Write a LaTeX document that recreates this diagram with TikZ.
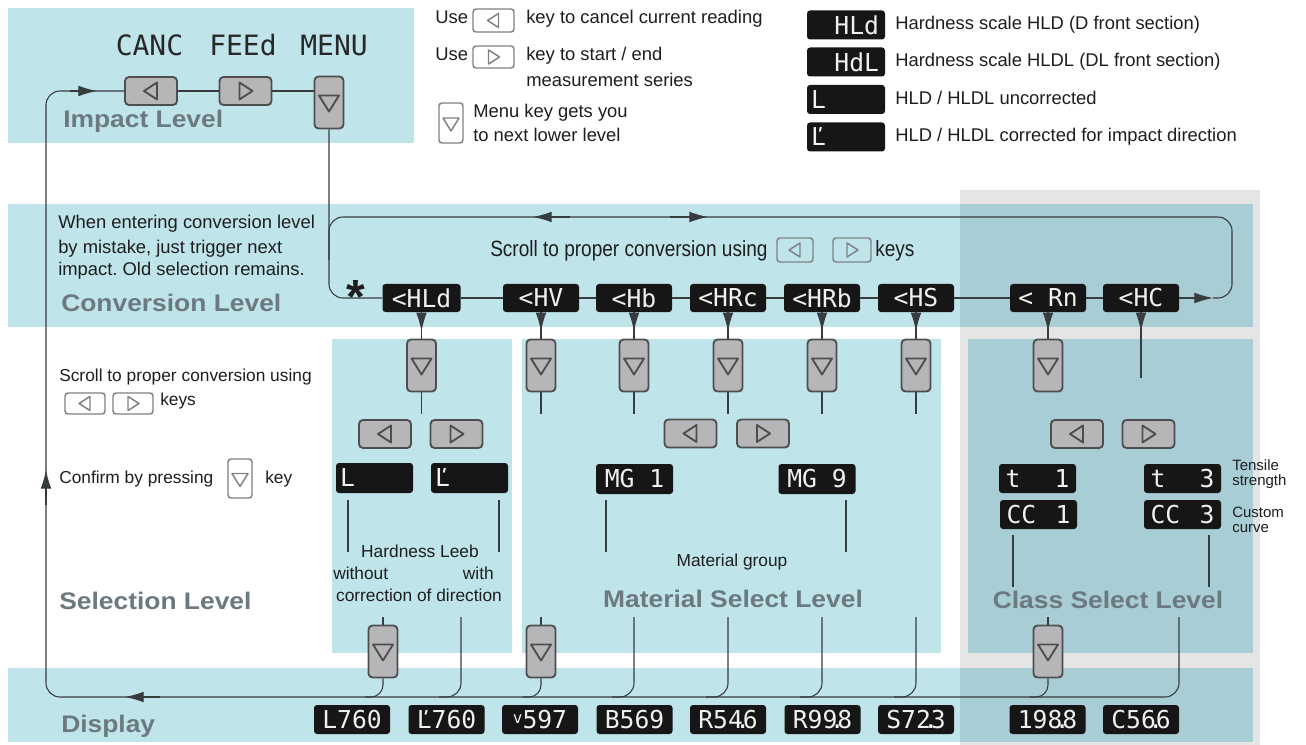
\documentclass[tikz,border=0pt]{standalone}
\usepackage{fontspec}
\setmainfont{Liberation Sans}
\newfontfamily\segfont{DejaVu Sans Mono}
\newfontfamily\condfont[FakeStretch=0.86]{Liberation Sans}
\newfontfamily\headfont[FakeStretch=1.1]{Liberation Sans}
\usetikzlibrary{arrows.meta}
\definecolor{bgc}{RGB}{191,228,234}
\definecolor{bgd}{RGB}{168,205,212}
\definecolor{bgg}{RGB}{229,229,229}
\definecolor{headc}{RGB}{108,122,128}
\definecolor{keyfill}{RGB}{182,182,184}
\definecolor{keyedge}{RGB}{78,78,80}
\definecolor{linec}{RGB}{55,60,62}
\definecolor{txtc}{RGB}{30,30,30}
\definecolor{segbg}{RGB}{22,22,22}
\definecolor{segtxt}{RGB}{240,240,240}
\definecolor{segdk}{RGB}{40,40,40}
\definecolor{okeyc}{RGB}{125,130,132}
\tikzset{
  conn/.style={draw=linec, line width=0.8pt},
  arr/.style={draw=linec, line width=0.8pt, -{Latex[length=14pt,width=8pt]}},
  keybase/.style={draw=keyedge, fill=keyfill, line width=1.4pt, rounded corners=3pt, inner sep=0pt},
  okeybase/.style={draw=okeyc, line width=1.1pt, rounded corners=2.25pt, inner sep=0pt},
  tri/.style={draw=keyedge, line width=1.4pt, line join=round, sharp corners},
  otri/.style={draw=okeyc, line width=1.1pt, line join=round, sharp corners},
  lkey/.style={keybase, minimum width=39pt, minimum height=21pt,
    path picture={\draw[tri,shift={(path picture bounding box.center)}] (6,-8.5) -- (-7,0) -- (6,8.5) -- cycle;}},
  rkey/.style={keybase, minimum width=39pt, minimum height=21pt,
    path picture={\draw[tri,shift={(path picture bounding box.center)}] (-6,-8.5) -- (7,0) -- (-6,8.5) -- cycle;}},
  dkey/.style={keybase, minimum width=21.75pt, minimum height=39pt,
    path picture={\draw[tri,shift={(path picture bounding box.center)}] (-10,-7) -- (10,-7) -- (0,9) -- cycle;}},
  olkey/.style={okeybase, minimum width=30pt, minimum height=16.5pt,
    path picture={\draw[otri,shift={(path picture bounding box.center)}] (5,-7) -- (-6,0) -- (5,7) -- cycle;}},
  orkey/.style={okeybase, minimum width=30pt, minimum height=16.5pt,
    path picture={\draw[otri,shift={(path picture bounding box.center)}] (-5,-7) -- (6,0) -- (-5,7) -- cycle;}},
  odkey/.style={okeybase, minimum width=18pt, minimum height=29.25pt,
    path picture={\draw[otri,shift={(path picture bounding box.center)}] (-8,-5) -- (8,-5) -- (0,8) -- cycle;}},
  head/.style={text=headc, font=\headfont\bfseries\fontsize{18}{20}\selectfont, inner sep=0pt, anchor=base west},
  body/.style={text=txtc, font=\frenchspacing\fontsize{13.8}{16}\selectfont, inner sep=0pt, anchor=base west},
  small/.style={text=txtc, font=\fontsize{13}{15}\selectfont, inner sep=0pt, anchor=base west},
  tiny/.style={text=txtc, font=\fontsize{11.25}{12}\selectfont, inner sep=0pt, anchor=base west},
  cond/.style={text=txtc, font=\condfont\fontsize{16.6}{18}\selectfont, inner sep=0pt, anchor=base west},
  seg/.style={fill=segbg, rounded corners=2.25pt, minimum width=57pt, minimum height=21pt,
    inner sep=0pt, text=segtxt, font=\segfont\fontsize{18.5}{19}\selectfont},
  segdark/.style={text=segdk, font=\segfont\fontsize{21}{21}\selectfont, inner sep=0pt},
}
\begin{document}
\frenchspacing
\begin{tikzpicture}[x=0.75pt,y=-0.75pt]
\useasboundingbox (0,0) rectangle (1306,745);
\fill[white] (0,0) rectangle (1306,745);
% ---------- backgrounds
\fill[bgg] (960,190) rectangle (1260,745);
\fill[bgc] (8,8) rectangle (414,143);
\fill[bgc] (8,204) rectangle (1253,327);
\fill[bgd] (960,204) rectangle (1253,327);
\fill[bgc] (332,339) rectangle (512,653);
\fill[bgc] (522,339) rectangle (941,653);
\fill[bgd] (968,339) rectangle (1253,653);
\fill[bgc] (8,668) rectangle (1253,742);
\fill[bgd] (960,668) rectangle (1253,742);

% ---------- impact level
\node[segdark] (tcanc) at (149.5,45) {CANC};
\node[segdark] (tfeed) at (243,45) {FEEd};
\node[segdark] (tmenu) at (334,45) {MENU};
\node[lkey] (kc) at (151,91) {};
\node[rkey] (kf) at (245.5,91) {};
\node[dkey] (km) at (329,102.5) {};
\node[head] (himp) at (63,128) {Impact Level};

% ---------- legend middle
\node[body] (use1) at (435,24) {Use};
\node[olkey, minimum width=30.75pt, minimum height=17.25pt] (lk0) at (493.5,20.5) {};
\node[body] (lg1) at (526,24) {key to cancel current reading};
\node[body] (use2) at (435,61) {Use};
\node[orkey, minimum width=30.75pt, minimum height=16.5pt] (rk0) at (493.5,57) {};
\node[body] (lg2a) at (526,61) {key to start / end};
\node[body] (lg2b) at (526,87) {measurement series};
\node[odkey, minimum height=30pt] (dk0) at (451,123) {};
\node[body] (lg3a) at (473,118) {Menu key gets you};
\node[body] (lg3b) at (473,142) {to next lower level};

% ---------- legend right
\node[seg, minimum width=58.5pt, minimum height=21.75pt] (sHLd) at (846,25) {\makebox[49.5pt][r]{HLd}};
\node[seg, minimum width=58.5pt, minimum height=21.75pt] (sHdL) at (846,62) {\makebox[49.5pt][r]{HdL}};
\node[seg, minimum width=58.5pt, minimum height=21.75pt] (sL) at (846,99.5) {\makebox[52.5pt][l]{L}};
\node[seg, minimum width=58.5pt, minimum height=21.75pt] (sLp) at (846,137) {\makebox[52.5pt][l]{Ľ}};
\node[body] (rl1) at (895,30) {Hardness scale HLD (D front section)};
\node[body] (rl2) at (895,67) {Hardness scale HLDL (DL front section)};
\node[body] (rl3) at (895,105) {HLD / HLDL uncorrected};
\node[body] (rl4) at (895,142) {HLD / HLDL corrected for impact direction};

% ---------- conversion level
\node[body] (cv1) at (58,229) {When entering conversion level};
\node[body] (cv2) at (58,253) {by mistake, just trigger next};
\node[body] (cv3) at (58,276) {impact. Old selection remains.};
\node[head] (hconv) at (61,311) {Conversion Level};
\node[text=txtc, font=\bfseries\fontsize{36}{36}\selectfont, inner sep=0pt, anchor=base] (star) at (356,313) {*};
\node[cond] (scr) at (490,257) {Scroll to proper conversion using};
\node[olkey, minimum width=27pt, minimum height=18pt] (lkc) at (795,250) {};
\node[orkey, minimum width=28.5pt, minimum height=18pt] (rkc) at (852,250) {};
\node[cond] (scrk) at (875,257) {keys};

\node[seg, minimum width=58.5pt] (cHLd) at (421.5,298) {<HLd};
\node[seg] (cHV) at (541,298) {<HV};
\node[seg] (cHb) at (634,298) {<Hb};
\node[seg] (cHRc) at (728,298) {<HRc};
\node[seg] (cHRb) at (822,298) {<HRb};
\node[seg] (cHS) at (916,298) {<HS};
\node[seg] (cRn) at (1048,298) {< Rn};
\node[seg] (cHC) at (1141,298) {<HC};

% ---------- selection level (left texts)
\node[small] (sl1) at (59,381) {Scroll to proper conversion using};
\node[olkey, minimum height=15.75pt] (lks) at (85,403.5) {};
\node[orkey, minimum height=15.75pt] (rks) at (133,403.5) {};
\node[small] (sl2) at (160,405) {keys};
\node[small] (sl3) at (59,483) {Confirm by pressing};
\node[odkey] (dks) at (240,478.5) {};
\node[small] (sl4) at (265,483) {key};
\node[head] (hsel) at (59,609) {Selection Level};

% ---------- Leeb panel
\node[dkey] (kd1) at (421.5,365.5) {};
\node[lkey] (lk1) at (385,434) {};
\node[rkey] (rk1) at (456.5,434) {};
\node[seg, minimum width=57.75pt, minimum height=22.5pt] (dL) at (374.5,478) {\makebox[51.75pt][l]{L}};
\node[seg, minimum width=57.75pt, minimum height=22.5pt] (dLp) at (469.5,478) {\makebox[51.75pt][l]{Ľ}};
\node[small, anchor=base] (hl1) at (420,557) {Hardness Leeb};
\node[small] (hl2) at (333,579) {without};
\node[small, anchor=base east] (hl3) at (494,579) {with};
\node[small, anchor=base] (hl4) at (419,601) {correction of direction};
\node[dkey] (kd2) at (383,651.5) {};

% ---------- material panel
\node[dkey] (kd3) at (541,365.5) {};
\node[dkey] (kd4) at (634,365.5) {};
\node[dkey] (kd5) at (728,365.5) {};
\node[dkey] (kd6) at (822,365.5) {};
\node[dkey] (kd7) at (916,365.5) {};
\node[lkey] (lk2) at (690.5,433.5) {};
\node[rkey] (rk2) at (763,433.5) {};
\node[seg, minimum width=57.75pt, minimum height=22.5pt] (dMG1) at (634.5,479) {MG 1};
\node[seg, minimum width=57.75pt, minimum height=22.5pt] (dMG9) at (817,479) {MG 9};
\node[small, anchor=base] (mg) at (732,566) {Material group};
\node[head, anchor=base] (hmat) at (733,607) {Material Select Level};
\node[dkey] (kd8) at (541,651.5) {};

% ---------- class panel
\node[dkey] (kd9) at (1048,365.5) {};
\node[lkey] (lk3) at (1077,434) {};
\node[rkey] (rk3) at (1148.5,434) {};
\node[seg, minimum width=57.75pt, minimum height=21.75pt] (dt1) at (1037.5,478.5) {\makebox[48pt]{t\hfill 1}};
\node[seg, minimum width=57.75pt, minimum height=21.75pt] (dt3) at (1182.5,478.5) {\makebox[48pt]{t\hfill 3}};
\node[seg, minimum width=57.75pt, minimum height=21.75pt] (dc1) at (1038.5,514.5) {\makebox[48pt]{CC\hfill 1}};
\node[seg, minimum width=57.75pt, minimum height=21.75pt] (dc3) at (1182.5,514.5) {\makebox[48pt]{CC\hfill 3}};
\node[tiny] (ts1) at (1232,470) {Tensile};
\node[tiny] (ts2) at (1232,485) {strength};
\node[tiny] (cc1) at (1232,517) {Custom};
\node[tiny] (cc2) at (1232,532) {curve};
\node[head, anchor=base] (hcls) at (1108,608) {Class Select Level};
\node[dkey] (kd10) at (1048,651.5) {};

% ---------- display row
\node[head] (hdisp) at (61,732) {Display};
\node[seg, minimum height=21.75pt] (vL) at (352,719.5) {L760};
\node[seg, minimum height=21.75pt] (vLp) at (446.5,719.5) {Ľ760};
\node[seg, minimum height=21.75pt] (vV) at (540,719.5) {{\fontsize{12}{12}\selectfont\raisebox{4pt}{v}}597};
\node[seg, minimum height=21.75pt] (vB) at (634.5,719.5) {B569};
\node[seg, minimum height=21.75pt] (vR1) at (728,719.5) {R54\makebox[0pt]{.}6};
\node[seg, minimum height=21.75pt] (vR2) at (822.5,719.5) {R99\makebox[0pt]{.}8};
\node[seg, minimum height=21.75pt] (vS) at (916,719.5) {S72\makebox[0pt]{.}3};
\node[seg, minimum height=21.75pt] (vT) at (1047.5,719.5) {198\makebox[0pt]{.}8};
\node[seg, minimum height=21.75pt] (vC) at (1141,719.5) {C56\makebox[0pt]{.}6};

% ---------- coordinates for free ends
\coordinate (e1179) at (1179,617);
\coordinate (e461) at (461,617);
\coordinate (e634) at (634,617);
\coordinate (e728) at (728,617);
\coordinate (e822) at (822,617);
\coordinate (e916) at (916,617);
\coordinate (t383) at (383,617);
\coordinate (t541) at (541,617);
\coordinate (t1048) at (1048,617);
\coordinate (hcEnd) at (1141,378);
\coordinate (loopEnd) at (1213,298);

% ---------- connectors: impact level and main return loop
\draw[conn] (kc.east) -- (kf.west);
\draw[conn] (kf.east) -- (kf.east -| km.west);
\draw[conn, rounded corners=10.5pt] (kc.west) -- (46,91) -- (46,697) -- (1179,697) -- (e1179);
\draw[arr] (70,91) -- (97,91);
\draw[arr] (46,505) -- (46,470);
\draw[arr] (160,697) -- (125,697);

% menu key to conversion row and the scroll loop
\draw[conn, rounded corners=10.5pt] (km.south) -- (329,298) -- (cHLd.west);
\draw[conn] (cHLd.east) -- (cHV.west);
\draw[conn] (cHV.east) -- (cHb.west);
\draw[conn] (cHb.east) -- (cHRc.west);
\draw[conn] (cHRc.east) -- (cHRb.west);
\draw[conn] (cHRb.east) -- (cHS.west);
\draw[conn] (cHS.east) -- (cRn.west);
\draw[conn] (cRn.east) -- (cHC.west);
\draw[arr] (cHC.east) -- (loopEnd);
\draw[conn, rounded corners=10.5pt] (loopEnd) -- (1232,298) -- (1232,217) -- (329,217) -- (329,260);
\draw[arr] (570,217) -- (533,217);
\draw[arr] (670,217) -- (708,217);

% conversion boxes down to selection keys
\foreach \b/\k in {cHLd/kd1, cHV/kd3, cHb/kd4, cHRc/kd5, cHRb/kd6, cHS/kd7, cRn/kd9}{
  \draw[conn] (\b.south) -- (\k.north);
  \draw[arr] (\b.south) -- ++(0,19);
}
\draw[conn] (cHC.south) -- (hcEnd);
\draw[arr] (cHC.south) -- ++(0,19);

% key stubs below the menu keys
\foreach \k/\x in {kd1/421.5, kd3/541, kd4/634, kd5/728, kd6/822, kd7/916}{
  \draw[conn] (\k.south) -- (\x,414);
}

% annotation lines
\draw[conn] (348,500) -- (348,552);
\draw[conn] (499,500) -- (499,552);
\draw[conn] (606,500) -- (606,552);
\draw[conn] (846,500) -- (846,552);
\draw[conn] (1013,535) -- (1013,587);
\draw[conn] (1209,535) -- (1209,587);

% into display line
\draw[conn] (t383) -- (kd2.north);
\draw[conn, rounded corners=9pt] (kd2.south) -- (383,697) -- (365,697);
\draw[conn] (t541) -- (kd8.north);
\draw[conn, rounded corners=9pt] (kd8.south) -- (541,697) -- (523,697);
\draw[conn] (t1048) -- (kd10.north);
\draw[conn, rounded corners=9pt] (kd10.south) -- (1048,697) -- (1030,697);
\foreach \c/\x in {e461/461, e634/634, e728/728, e822/822, e916/916}{
  \draw[conn, rounded corners=10.5pt] (\c) -- (\x,697) -- (\x-22,697);
}
\end{tikzpicture}
\end{document}
